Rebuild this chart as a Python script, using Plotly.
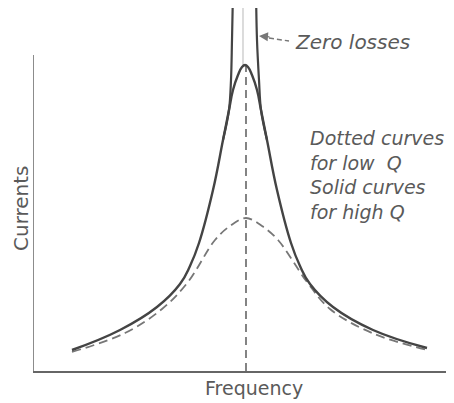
import plotly.graph_objects as go

# values (frequency / current, arbitrary units)
high_q_freq = [39, 87, 124, 147, 157, 166, 180, 190, 196, 200, 205, 209, 212,
               215, 219, 224, 228, 234, 244, 258, 267, 277, 300, 340, 394]
high_q_curr = [21, 41, 64, 87, 105, 128, 181, 231, 261, 281, 296, 304, 306,
               304, 296, 281, 261, 231, 181, 128, 105, 87, 64, 41, 23]

low_q_freq = [39, 92, 129, 155, 182, 197, 213, 229, 245, 274, 297, 339, 394]
low_q_curr = [19, 38, 62, 89, 131, 145, 153, 145, 131, 89, 62, 38, 21]

zero_left_freq = [200, 199, 198, 196, 190]
zero_left_curr = [380, 331, 291, 261, 231]
zero_right_freq = [223, 224, 226, 228, 234]
zero_right_curr = [380, 331, 291, 261, 231]

resonance = 213
peak_high = 306
y_axis_top = 316

ink = "#444444"
grey = "#777777"
text_col = "#5a5a5a"

fig = go.Figure()

# thin line above the peak and dashed resonance line
fig.add_trace(go.Scatter(x=[resonance - 3, resonance - 3], y=[peak_high, 380], mode="lines",
                         line=dict(color="#c4c4c4", width=1.2)))
fig.add_trace(go.Scatter(x=[resonance, resonance], y=[0, peak_high], mode="lines",
                         line=dict(color=grey, width=1.8, dash="8px,5px")))

fig.add_trace(go.Scatter(x=low_q_freq, y=low_q_curr, mode="lines",
                         line=dict(color=grey, width=1.8, dash="9px,5px", shape="spline", smoothing=1)))
fig.add_trace(go.Scatter(x=high_q_freq, y=high_q_curr, mode="lines",
                         line=dict(color=ink, width=2.4, shape="spline", smoothing=1.2)))
for fx, cy in [(zero_left_freq, zero_left_curr), (zero_right_freq, zero_right_curr)]:
    fig.add_trace(go.Scatter(x=fx, y=cy, mode="lines",
                             line=dict(color=ink, width=2.2, shape="spline")))

# y axis line (stops short of the top)
fig.add_trace(go.Scatter(x=[0, 0], y=[0, y_axis_top], mode="lines",
                         line=dict(color="#666666", width=1.5)))

# dashed leader for "Zero losses"
fig.add_trace(go.Scatter(x=[236, 256], y=[333, 330], mode="lines",
                         line=dict(color=grey, width=1.5, dash="5px,3px")))

fig.add_annotation(x=226, y=335, ax=12, ay=1, text="", showarrow=True,
                   arrowhead=2, arrowsize=1.2, arrowwidth=1.5, arrowcolor=grey)
fig.add_annotation(x=260, y=329, text="<i>Zero losses</i>", showarrow=False,
                   xanchor="left", yanchor="middle",
                   font=dict(family="DejaVu Sans", size=20, color=text_col))
fig.add_annotation(x=275, y=196, text="<i>Dotted curves<br>for low  Q<br>Solid curves<br>for high Q</i>",
                   showarrow=False, xanchor="left", yanchor="middle", align="left",
                   font=dict(family="DejaVu Sans", size=19, color=text_col))
fig.add_annotation(x=221, xref="x", y=-17 / 363, yref="paper", text="Frequency", showarrow=False,
                   xanchor="center", yanchor="middle",
                   font=dict(family="DejaVu Sans", size=19, color=text_col))
fig.add_annotation(x=-12 / 421, xref="paper", y=163, yref="y", text="Currents", showarrow=False,
                   textangle=-90, xanchor="center", yanchor="middle", borderpad=0,
                   font=dict(family="DejaVu Sans", size=20, color=text_col))

# the page body adds an 8px offset, so the figure is 8px smaller each way
fig.update_layout(
    width=446, height=395,
    margin=dict(l=25, r=0, t=0, b=32),
    plot_bgcolor="white", paper_bgcolor="white",
    showlegend=False,
    xaxis=dict(range=[0, 421], showgrid=False, zeroline=False, showticklabels=False,
               ticks="", showline=True, linecolor="#666666", linewidth=1.5, fixedrange=True),
    yaxis=dict(range=[0, 363], showgrid=False, zeroline=False, showticklabels=False,
               ticks="", showline=False, fixedrange=True),
)

fig.write_html("out.html")
